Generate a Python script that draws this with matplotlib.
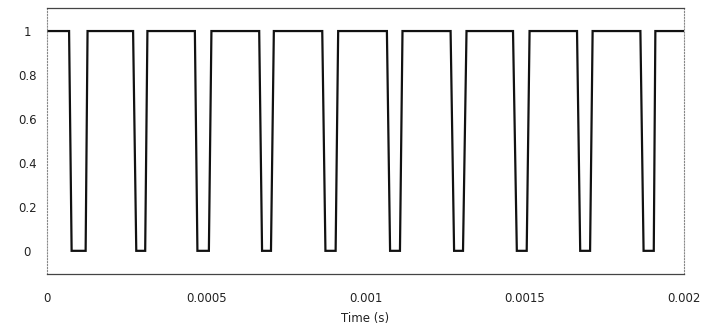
import matplotlib.pyplot as plt
import numpy as np

# pulse edges in microseconds (high -> low -> high)
fall_start = [69, 270, 464, 666, 864, 1067, 1267, 1463, 1664, 1863]
fall_end = [77, 280, 472, 675, 874, 1077, 1278, 1475, 1674, 1873]
rise_start = [121, 308, 508, 703, 906, 1108, 1306, 1506, 1705, 1905]
rise_end = [127, 315, 516, 712, 914, 1116, 1317, 1515, 1713, 1910]
t_end = 2000

xticks = [0, 0.0005, 0.001, 0.0015, 0.002]
xticklabels = ["0", "0.0005", "0.001", "0.0015", "0.002"]
yticks = [0, 0.2, 0.4, 0.6, 0.8, 1]
yticklabels = ["0", "0.2", "0.4", "0.6", "0.8", "1"]

# build waveform
t = [0]
v = [1]
for a, b, c, d in zip(fall_start, fall_end, rise_start, rise_end):
    t += [a, b, c, d]
    v += [1, 0, 0, 1]
t.append(t_end)
v.append(1)
t = np.array(t) * 1e-6

fig = plt.figure(figsize=(7.03, 3.32), dpi=100)
ax = fig.add_axes([0.067, 0.175, 0.906, 0.801])
ax.plot(t, v, color="#111111", lw=1.6, solid_joinstyle="miter")

ax.set_xlim(0, 0.002)
ax.set_ylim(-0.105, 1.105)
ax.set_xticks(xticks)
ax.set_xticklabels(xticklabels)
ax.set_yticks(yticks)
ax.set_yticklabels(yticklabels)
ax.tick_params(axis="both", length=0, labelsize=8.5, labelcolor="#222222")
ax.tick_params(axis="y", pad=14.4)
ax.tick_params(axis="x", pad=13)
for lab in ax.get_yticklabels():
    lab.set_horizontalalignment("center")
ax.set_xlabel("Time (s)", fontsize=8.5, color="#222222", labelpad=5)

for side in ["top", "bottom"]:
    ax.spines[side].set_color("#444444")
    ax.spines[side].set_linewidth(0.9)
for side in ["left", "right"]:
    ax.spines[side].set_color("#888888")
    ax.spines[side].set_linewidth(0.8)
    ax.spines[side].set_linestyle(":")

fig.savefig("out.png", dpi=100)
